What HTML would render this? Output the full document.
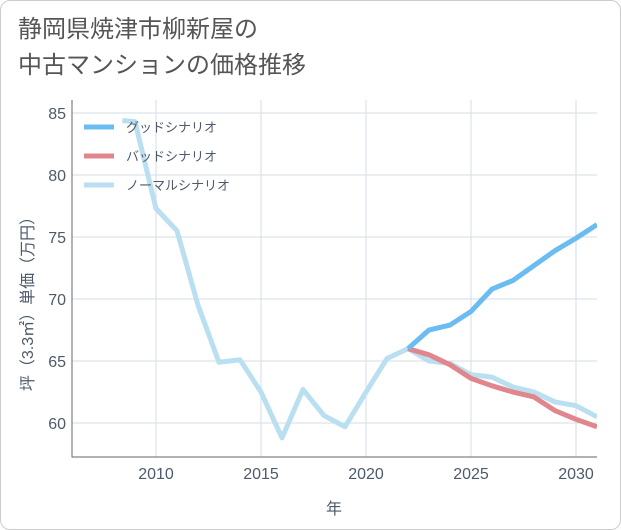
<!DOCTYPE html>
<html><head><meta charset="utf-8"><style>
body{margin:0;background:#fff;}
#card{position:absolute;left:0;top:0;width:619px;height:528px;border:1px solid #ccc;border-radius:10px;background:#fff;}
#title{position:absolute;left:18px;top:12px;font:24px "Liberation Sans","Noto Sans CJK JP",sans-serif;color:#555;line-height:36px;}
svg{position:absolute;left:0;top:0;}
text{font-family:"Liberation Sans","Noto Sans CJK JP",sans-serif;}
</style></head><body>
<div id="card"></div>
<div id="title">静岡県焼津市柳新屋の<br>中古マンションの価格推移</div>
<svg id="chart" width="621" height="530"></svg>
<script>
const normalYears=[2008.4,2009,2010,2011,2012,2013,2014,2015,2016,2017,2018,2019,2020,2021,2022,2023,2024,2025,2026,2027,2028,2029,2030,2031];
const normalVals=[84.4,84.3,77.3,75.5,69.5,64.9,65.1,62.5,58.8,62.7,60.6,59.7,62.5,65.2,66.0,65.0,64.8,63.9,63.7,62.9,62.5,61.7,61.4,60.5];
const goodYears=[2022,2023,2024,2025,2026,2027,2028,2029,2030,2031];
const goodVals=[66.0,67.5,67.9,69.0,70.8,71.5,72.7,73.9,74.9,76.0];
const badYears=[2022,2023,2024,2025,2026,2027,2028,2029,2030,2031];
const badVals=[66.0,65.5,64.7,63.6,63.0,62.5,62.1,61.0,60.3,59.7];
const xTicks=[2010,2015,2020,2025,2030];
const yTicks=[60,65,70,75,80,85];
const L=72,R=597,T=100,B=457;
const X=y=>L+(y-2006)*(R-L)/25;
const Y=v=>B-(v-57.26)*(B-T)/(86.05-57.26);
const svg=document.getElementById('chart');const NS='http://www.w3.org/2000/svg';
function mk(t,a,p){const e=document.createElementNS(NS,t);for(const k in a)e.setAttribute(k,a[k]);(p||svg).appendChild(e);return e;}
const defs=mk('defs',{});const cp=mk('clipPath',{id:'c'},defs);mk('rect',{x:L,y:T,width:R-L,height:B-T},cp);
xTicks.forEach(t=>{const l=mk('line',{x1:X(t),x2:X(t),y1:T,y2:B,stroke:'#d5dde6','stroke-width':1});

const tx=mk('text',{x:X(t),y:B+22,'text-anchor':'middle','font-size':16,fill:'#4d5a6a'});tx.textContent=t;
});
yTicks.forEach(t=>{const l=mk('line',{x1:L,x2:R,y1:Y(t),y2:Y(t),stroke:'#d5dde6','stroke-width':1});

const tx=mk('text',{x:L-6,y:Y(t)+6,'text-anchor':'end','font-size':16,fill:'#4d5a6a'});tx.textContent=t;
});
const ax=mk('path',{d:`M${L} ${T}V${B}H${R}`,fill:'none',stroke:'#666','stroke-width':1});

function series(ys,vs,c,name){const p=mk('polyline',{points:ys.map((y,i)=>X(y)+','+Y(vs[i])).join(' '),fill:'none',stroke:c,'stroke-width':5,'stroke-linejoin':'round','clip-path':'url(#c)'});
}
series(normalYears,normalVals,'#b9dff0','normal-series-line');
series(badYears,badVals,'#e0868c','bad-series-line');
series(goodYears,goodVals,'#6bbcf0','good-series-line');
const leg=[['グッドシナリオ','#6bbcf0'],['バッドシナリオ','#e0868c'],['ノーマルシナリオ','#b9dff0']];
leg.forEach((e,i)=>{const y=127+i*29;const l=mk('line',{x1:84,x2:114,y1:y,y2:y,stroke:e[1],'stroke-width':5});

const t=mk('text',{x:126,y:y+5,'font-size':13,fill:'#4d5a6a'});t.textContent=e[0];
});
const xt=mk('text',{x:334,y:514,'text-anchor':'middle','font-size':16,fill:'#4d5a6a'});xt.textContent='年';

const yt=mk('text',{x:33,y:300,'text-anchor':'middle','font-size':16,fill:'#4d5a6a',transform:'rotate(-90 33 300)'});yt.textContent='坪（3.3㎡）単価（万円）';

</script>
</body></html>
